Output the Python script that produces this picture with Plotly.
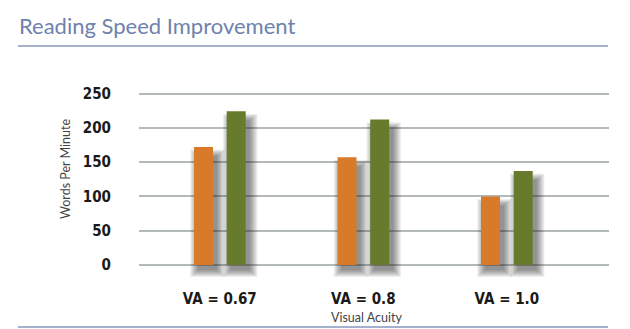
import plotly.graph_objects as go

categories = ["VA = 0.67", "VA = 0.8", "VA = 1.0"]
series_a = [172, 157, 100]   # orange
series_b = [224, 212, 137]   # green
y_ticks = [0, 50, 100, 150, 200, 250]

W, H = 630, 329
L, R, T, B = 139, 21, 80, 49
PXX = 143.5            # px per category unit
PXY = 0.686            # px per value unit
xr = [-(219.8 - L) / PXX, (W - R - 219.8) / PXX]
yr = [-(H - B - 265) / PXY, 250 + (93.5 - T) / PXY]

bar_w = 19 / PXX
off_a = -25.8 / PXX
off_b = 6.9 / PXX

BOLD_NARROW = "Liberation Sans Narrow, DejaVu Sans Condensed, Roboto Condensed, Roboto, sans-serif"

fig = go.Figure()
x_idx = list(range(len(categories)))

# soft drop shadows
N = 8
for vals, off in [(series_a, off_a), (series_b, off_b)]:
    for i in range(N):
        spread = (i * 1.1) / PXX
        bot = (5 + i * 1.0) / PXY
        top_drop = (9 - i * 0.9) / PXY
        fig.add_trace(go.Bar(
            x=x_idx, y=[v - top_drop + bot for v in vals],
            base=[-bot] * len(vals),
            offset=off + 4 / PXX - spread, width=bar_w + 2 * spread,
            marker=dict(color="rgba(30,30,30,0.075)", line_width=0),
            hoverinfo="skip", showlegend=False))

fig.add_trace(go.Bar(x=x_idx, y=series_a, offset=off_a, width=bar_w,
                     marker=dict(color="#d97a2b", line_width=0), showlegend=False))
fig.add_trace(go.Bar(x=x_idx, y=series_b, offset=off_b, width=bar_w,
                     marker=dict(color="#687a2c", line_width=0), showlegend=False))

fig.update_layout(
    width=W, height=H, margin=dict(l=L, r=R, t=T, b=B),
    paper_bgcolor="white", plot_bgcolor="white", barmode="overlay",
    xaxis=dict(range=xr, tickvals=x_idx, ticktext=categories, showgrid=False,
               zeroline=False, showline=False, ticks="",
               ticklabelstandoff=8,
               tickfont=dict(family=BOLD_NARROW, size=15, color="#1a1a1a", weight="bold"),
               fixedrange=True),
    yaxis=dict(range=yr, tickvals=y_ticks, showgrid=True, gridcolor="#b3b8b8", gridwidth=2,
               zeroline=False, showline=False, ticks="", ticklabelstandoff=27,
               tickfont=dict(family=BOLD_NARROW, size=15, color="#1a1a1a", weight="bold"),
               fixedrange=True),
)

fig.add_annotation(text="Reading Speed Improvement", xref="paper", yref="paper",
                   x=(17 - L) / (W - L - R), y=1 + (T - 25) / (H - T - B),
                   xanchor="left", yanchor="middle", showarrow=False,
                   font=dict(family="Lato", size=22, color="#6e82ad"))
fig.add_annotation(text="Words Per Minute", xref="paper", yref="paper",
                   x=(65 - L) / (W - L - R), y=(H - B - 169) / (H - T - B),
                   textangle=-90, showarrow=False, xanchor="center", yanchor="middle",
                   font=dict(family="Lato", size=12.5, color="#444444"))
fig.add_annotation(text="Visual Acuity", xref="paper", yref="paper",
                   x=(366 - L) / (W - L - R), y=(H - B - 317) / (H - T - B),
                   showarrow=False, xanchor="center", yanchor="middle",
                   font=dict(family="Lato", size=12.5, color="#444444"))

for yy in [46, 327]:
    fig.add_shape(type="line", xref="paper", yref="paper",
                  x0=(18 - L) / (W - L - R), x1=(608 - L) / (W - L - R),
                  y0=(H - B - yy) / (H - T - B), y1=(H - B - yy) / (H - T - B),
                  line=dict(color="#8597bd", width=1.5))

fig.write_html("out.html")
